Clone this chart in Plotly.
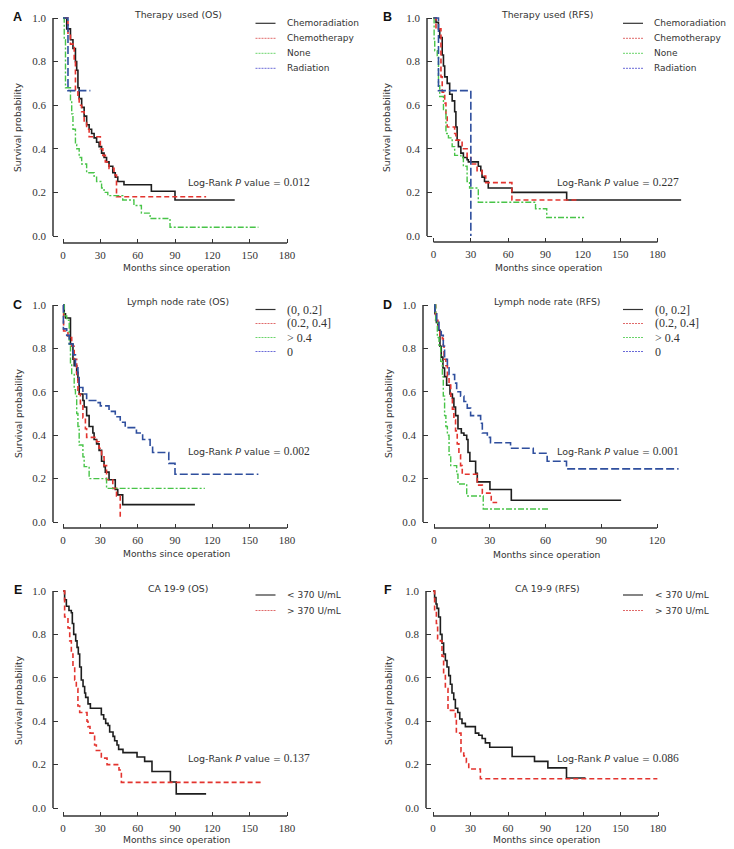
import plotly.graph_objects as go

# The page places the plot 8px in from the top-left corner (default body margin),
# so the figure is sized to fill the rest of the 734x849 window.
WIN_W, WIN_H = 734, 849
OFF = 8
W, H = WIN_W - OFF, WIN_H - OFF

# ---------------- data ----------------
THERAPY_LABELS = ["Chemoradiation", "Chemotherapy", "None", "Radiation"]
LNR_LABELS = ["(0, 0.2]", "(0.2, 0.4]", "&gt; 0.4", "0"]
CA_LABELS = ["&lt; 370 U/mL", "&gt; 370 U/mL"]

TITLES = ["Therapy used (OS)", "Therapy used (RFS)", "Lymph node rate (OS)",
          "Lymph node rate (RFS)", "CA 19-9 (OS)", "CA 19-9 (RFS)"]
P_VALUES = ["0.012", "0.227", "0.002", "0.001", "0.137", "0.086"]
PANEL_LETTERS = ["A", "B", "C", "D", "E", "F"]
X_TICKS_180 = [0, 30, 60, 90, 120, 150, 180]
X_TICKS_120 = [0, 30, 60, 90, 120]
Y_TICKS = [0.0, 0.2, 0.4, 0.6, 0.8, 1.0]

# Panel A - therapy (OS)
A_chemorad_t = [0, 3, 6, 8, 10, 11, 12, 13, 15, 17, 19, 21, 23, 25, 27, 29, 31, 33, 35, 37, 40, 42, 44, 49, 71, 90, 138]
A_chemorad_s = [1.0, 0.95, 0.90, 0.86, 0.80, 0.76, 0.68, 0.63, 0.59, 0.55, 0.51, 0.49, 0.47, 0.45, 0.43, 0.41, 0.38, 0.36, 0.34, 0.32, 0.29, 0.27, 0.25, 0.235, 0.205, 0.165, 0.165]
A_chemo_t = [0, 4, 6, 9, 10, 12, 13, 15, 17, 19, 21, 30, 32, 34, 37, 41, 43, 115]
A_chemo_s = [1.0, 0.93, 0.88, 0.80, 0.67, 0.64, 0.60, 0.57, 0.52, 0.49, 0.455, 0.40, 0.37, 0.34, 0.31, 0.28, 0.18, 0.18]
A_none_t = [0, 1, 2, 6, 7, 8, 10, 11, 13, 15, 19, 25, 27, 31, 33, 36, 48, 57, 63, 70, 86, 157]
A_none_s = [1.0, 0.90, 0.68, 0.62, 0.56, 0.49, 0.42, 0.40, 0.36, 0.33, 0.29, 0.27, 0.25, 0.22, 0.20, 0.185, 0.165, 0.14, 0.105, 0.08, 0.04, 0.04]
A_rad_t = [0, 4, 22]
A_rad_s = [1.0, 0.667, 0.667]

# Panel B - therapy (RFS)
B_chemorad_t = [0, 2, 4, 5, 7, 8, 9, 11, 13, 15, 17, 18, 19, 20, 22, 24, 27, 28, 36, 38, 39, 41, 44, 63, 107, 199]
B_chemorad_s = [1.0, 0.98, 0.95, 0.91, 0.83, 0.78, 0.73, 0.70, 0.65, 0.62, 0.57, 0.50, 0.44, 0.41, 0.38, 0.36, 0.35, 0.34, 0.32, 0.30, 0.27, 0.25, 0.22, 0.20, 0.165, 0.165]
B_chemo_t = [0, 2, 6, 7, 9, 10, 11, 17, 18, 23, 27, 30, 35, 39, 42, 63, 117]
B_chemo_s = [1.0, 0.95, 0.73, 0.66, 0.61, 0.55, 0.50, 0.47, 0.44, 0.40, 0.36, 0.33, 0.30, 0.275, 0.245, 0.165, 0.165]
B_none_t = [0, 0.5, 1, 3, 4, 5, 8, 10, 12, 15, 17, 22, 24, 27, 29, 36, 82, 91, 121]
B_none_s = [1.0, 0.90, 0.85, 0.82, 0.69, 0.64, 0.58, 0.47, 0.45, 0.41, 0.37, 0.36, 0.32, 0.25, 0.22, 0.155, 0.125, 0.085, 0.085]
B_rad_t = [0, 4, 30]
B_rad_s = [1.0, 0.667, 0.0]

# Panel C - lymph node rate (OS)
C_low_t = [0, 1, 2, 6, 8, 9, 11, 12, 13, 16, 17, 19, 21, 24, 25, 27, 29, 31, 33, 34, 37, 42, 44, 48, 106]
C_low_s = [1.0, 0.96, 0.94, 0.82, 0.75, 0.72, 0.69, 0.655, 0.59, 0.56, 0.53, 0.49, 0.44, 0.41, 0.38, 0.36, 0.33, 0.28, 0.255, 0.23, 0.195, 0.15, 0.125, 0.08, 0.08]
C_mid_t = [0, 0.5, 4, 7, 9, 11, 12, 14, 16, 18, 19, 27, 29, 31, 33, 35, 40, 43, 46]
C_mid_s = [1.0, 0.88, 0.85, 0.81, 0.75, 0.68, 0.59, 0.54, 0.48, 0.43, 0.39, 0.37, 0.34, 0.30, 0.26, 0.195, 0.155, 0.12, 0.02]
C_high_t = [0, 1, 3, 5, 6, 7, 9, 10, 11, 12, 13, 16, 17, 21, 35, 114]
C_high_s = [1.0, 0.95, 0.93, 0.81, 0.73, 0.68, 0.61, 0.58, 0.50, 0.44, 0.355, 0.30, 0.255, 0.20, 0.155, 0.155]
C_zero_t = [0, 0.3, 3, 5, 8, 10, 12, 13, 16, 19, 27, 30, 37, 42, 46, 50, 59, 64, 70, 72, 85, 90, 157]
C_zero_s = [1.0, 0.89, 0.86, 0.82, 0.77, 0.72, 0.67, 0.62, 0.59, 0.56, 0.55, 0.535, 0.51, 0.485, 0.46, 0.435, 0.41, 0.38, 0.35, 0.32, 0.27, 0.22, 0.22]

# Panel D - lymph node rate (RFS)
D_low_t = [0, 0.5, 1.3, 2.1, 3.2, 3.9, 4.8, 5.7, 6.8, 8.6, 9.9, 10.7, 11.6, 12.9, 14.7, 16.1, 17.6, 18.3, 19.3, 22.4, 23.3, 30.1, 41.6, 100.7]
D_low_s = [1.0, 0.96, 0.92, 0.885, 0.81, 0.76, 0.71, 0.67, 0.63, 0.59, 0.57, 0.53, 0.49, 0.43, 0.41, 0.40, 0.38, 0.32, 0.28, 0.225, 0.185, 0.15, 0.10, 0.10]
D_mid_t = [0, 0.9, 2.1, 3.2, 4.5, 5, 5.4, 6.4, 7.2, 8.1, 9, 9.9, 10.7, 11.6, 12.5, 13.4, 14.3, 15.2, 23.3, 26, 30.8, 34]
D_mid_s = [1.0, 0.93, 0.89, 0.86, 0.845, 0.81, 0.75, 0.72, 0.67, 0.64, 0.58, 0.52, 0.47, 0.42, 0.36, 0.31, 0.26, 0.22, 0.17, 0.133, 0.09, 0.09]
D_high_t = [0, 0.9, 1.8, 2.7, 3.6, 4.5, 5, 5.7, 6.4, 7.2, 8.1, 9, 12.2, 12.9, 17.6, 26.5, 61.8]
D_high_s = [1.0, 0.92, 0.85, 0.81, 0.74, 0.67, 0.58, 0.49, 0.44, 0.40, 0.31, 0.26, 0.22, 0.175, 0.12, 0.06, 0.06]
D_zero_t = [0, 0.5, 1.4, 2.7, 3.9, 5, 5.7, 7.2, 8.1, 11.1, 12.2, 14.3, 16.1, 17.9, 19.7, 25.1, 26, 28.7, 30.4, 41.2, 53.4, 60.9, 71.3, 131.6]
D_zero_s = [1.0, 0.96, 0.92, 0.885, 0.86, 0.81, 0.75, 0.72, 0.68, 0.64, 0.60, 0.58, 0.555, 0.525, 0.49, 0.455, 0.41, 0.39, 0.365, 0.34, 0.317, 0.28, 0.245, 0.245]

# Panel E - CA 19-9 (OS)
E_low_t = [0, 1.3, 2.7, 4.8, 6.7, 7.5, 8.6, 10.2, 11.3, 12.3, 13.4, 14.7, 16.1, 17.4, 18.2, 20.1, 22, 30.8, 32.7, 34.3, 36.2, 37.5, 40.2, 41.5, 43.4, 44.7, 48.2, 59.5, 65.6, 71.5, 86.3, 91, 115]
E_low_s = [1.0, 0.96, 0.93, 0.91, 0.90, 0.85, 0.80, 0.77, 0.74, 0.71, 0.65, 0.59, 0.56, 0.53, 0.51, 0.48, 0.46, 0.43, 0.41, 0.39, 0.38, 0.35, 0.33, 0.31, 0.29, 0.27, 0.255, 0.235, 0.215, 0.168, 0.12, 0.065, 0.065]
E_high_t = [0, 1.3, 4, 5.4, 6.7, 8, 9.4, 10.7, 12, 13.4, 19.3, 20.1, 21.7, 25.4, 26.8, 30.8, 35.4, 45, 46.9, 159]
E_high_s = [1.0, 0.88, 0.83, 0.77, 0.71, 0.65, 0.59, 0.55, 0.47, 0.44, 0.40, 0.375, 0.345, 0.29, 0.265, 0.23, 0.20, 0.175, 0.118, 0.118]

# Panel F - CA 19-9 (RFS)
F_low_t = [0, 1.3, 2.4, 3.2, 4.5, 5.9, 7.2, 8.5, 9.9, 11.2, 12.6, 13.9, 15.2, 16.6, 17.9, 19.8, 21.4, 23.2, 25.9, 33.9, 36.6, 39.3, 41.9, 45.4, 63.3, 81.2, 91.9, 106.8, 122]
F_low_s = [1.0, 0.97, 0.94, 0.92, 0.88, 0.80, 0.76, 0.71, 0.68, 0.65, 0.61, 0.57, 0.53, 0.50, 0.46, 0.44, 0.41, 0.39, 0.375, 0.345, 0.335, 0.32, 0.30, 0.28, 0.237, 0.215, 0.185, 0.138, 0.138]
F_high_t = [0, 1.3, 2.7, 3.7, 5.9, 7.2, 8.5, 9.9, 12, 17.9, 18.7, 22.4, 24.6, 26.7, 28.6, 37.9, 179.5]
F_high_s = [1.0, 0.91, 0.85, 0.78, 0.77, 0.70, 0.62, 0.55, 0.45, 0.42, 0.345, 0.26, 0.24, 0.21, 0.18, 0.135, 0.135]

# ---------------- styles ----------------
BLACK = "#1e1e1e"
RED = "#e3342f"
GREEN = "#48c448"
BLUE = "#2f4f9e"
TEXT = "#333333"
SANS = "DejaVu Sans"
SERIF = "Liberation Serif"

STYLE = [
    dict(color=BLACK, width=1.6, dash="solid"),
    dict(color=RED, width=1.6, dash="5px,3px"),
    dict(color=GREEN, width=1.4, dash="6px,2px,2px,2px"),
    dict(color=BLUE, width=1.6, dash="8px,3px"),
]
LEG_STYLE = [
    dict(color="#333333", width=1.2, dash="solid"),
    dict(color="#e06a6a", width=1, dash="2px,1px"),
    dict(color="#6ad46a", width=1, dash="2px,1px"),
    dict(color="#6a6ad8", width=1, dash="2px,1px"),
]

panel_series = [
    [(A_chemorad_t, A_chemorad_s), (A_chemo_t, A_chemo_s), (A_none_t, A_none_s), (A_rad_t, A_rad_s)],
    [(B_chemorad_t, B_chemorad_s), (B_chemo_t, B_chemo_s), (B_none_t, B_none_s), (B_rad_t, B_rad_s)],
    [(C_low_t, C_low_s), (C_mid_t, C_mid_s), (C_high_t, C_high_s), (C_zero_t, C_zero_s)],
    [(D_low_t, D_low_s), (D_mid_t, D_mid_s), (D_high_t, D_high_s), (D_zero_t, D_zero_s)],
    [(E_low_t, E_low_s), (E_high_t, E_high_s)],
    [(F_low_t, F_low_s), (F_high_t, F_high_s)],
]
panel_labels = [THERAPY_LABELS, THERAPY_LABELS, LNR_LABELS, LNR_LABELS, CA_LABELS, CA_LABELS]
panel_ticks = [X_TICKS_180, X_TICKS_180, X_TICKS_180, X_TICKS_120, X_TICKS_180, X_TICKS_180]

# ---------------- geometry (window pixels) ----------------
# axis_x: y-axis line; x0: month 0; xe: last x tick; y1: prob 1.0; y0: prob 0.0; axis_y: x-axis line
GEOM = [
    dict(axis_x=53, x0=63, xe=287, y1=18, y0=236, axis_y=243, right=300),
    dict(axis_x=427, x0=433.5, xe=657.5, y1=18, y0=236, axis_y=242, right=692),
    dict(axis_x=53, x0=63, xe=287, y1=305, y0=522, axis_y=528, right=300),
    dict(axis_x=423, x0=434, xe=657, y1=305, y0=522, axis_y=528, right=692),
    dict(axis_x=53, x0=63, xe=287, y1=591, y0=808, axis_y=816, right=300),
    dict(axis_x=426, x0=433, xe=658, y1=591, y0=808, axis_y=816, right=692),
]
TITLE_POS = [(178, 15), (547, 15), (178, 302), (547, 302), (178, 588), (547, 588)]
XTITLE_POS = [(177, 267), (549, 267), (177, 553), (547, 554), (177, 839), (547, 839)]
YTITLE_POS = [(18, 127), (387, 127), (18, 413), (388, 413), (18, 700), (388, 700)]
LOGRANK_POS = [(186, 182), (555, 182), (186, 451), (555, 451), (186, 758), (555, 758)]
LETTER_POS = [(17.5, 17), (388, 17), (17.5, 305), (388, 305), (17.5, 590), (388, 590)]
# (sample start x, first row y, row gap, label x)
LEGEND_POS = [(255.5, 23.3, 15, 286), (623, 23.3, 15, 653), (255.5, 309.5, 14, 286),
              (623, 309.5, 14, 654), (255.5, 595, 15.5, 286), (623, 595, 15.5, 654)]


def px_x(p):
    return (p - OFF) / W


def px_y(p):
    return 1 - (p - OFF) / H


fig = go.Figure()
layout = {}
shapes = []
annotations = []


def text_ann(pos, text, size, family=SANS, **kw):
    d = dict(xref="paper", yref="paper", x=px_x(pos[0]), y=px_y(pos[1]), text=text,
             showarrow=False, xanchor="center", yanchor="middle",
             font=dict(family=family, size=size, color=kw.pop("color", TEXT)))
    d.update(kw)
    return d


for i, g in enumerate(GEOM):
    n = i + 1
    xa = "x" if n == 1 else f"x{n}"
    ya = "y" if n == 1 else f"y{n}"
    ticks = panel_ticks[i]
    scale = (g["xe"] - g["x0"]) / ticks[-1]
    xr = [(g["axis_x"] - g["x0"]) / scale, (g["right"] - g["x0"]) / scale]
    yscale = g["y0"] - g["y1"]
    top = g["y1"] - 8
    yr = [-(g["axis_y"] - g["y0"]) / yscale, 1 + (g["y1"] - top) / yscale]

    layout["xaxis" if n == 1 else f"xaxis{n}"] = dict(
        domain=[px_x(g["axis_x"]), px_x(g["right"])], range=xr, anchor=ya,
        tickvals=ticks, ticktext=[str(t) for t in ticks], ticks="inside", ticklen=4,
        tickwidth=1, tickcolor=TEXT, showgrid=False, zeroline=False, showline=False,
        tickfont=dict(family=SERIF, size=11, color=TEXT), ticklabelstandoff=4,
        fixedrange=True,
    )
    layout["yaxis" if n == 1 else f"yaxis{n}"] = dict(
        domain=[px_y(g["axis_y"]), px_y(top)], range=yr, anchor=xa,
        tickvals=Y_TICKS, ticktext=[f"{v:.1f}" for v in Y_TICKS], ticks="inside", ticklen=5,
        tickwidth=1, tickcolor=TEXT, showgrid=False, zeroline=False, showline=False,
        tickfont=dict(family=SERIF, size=11, color=TEXT), ticklabelstandoff=6,
        fixedrange=True,
    )

    # axis lines spanning only the tick range
    shapes.append(dict(type="line", xref=f"{xa} domain", yref=ya, x0=0, x1=0, y0=0, y1=1,
                       line=dict(color=TEXT, width=1.5)))
    shapes.append(dict(type="line", xref=xa, yref=f"{ya} domain", x0=0, x1=ticks[-1], y0=0, y1=0,
                       line=dict(color=TEXT, width=1.5)))

    # Kaplan-Meier step curves
    for k, (t, s) in enumerate(panel_series[i]):
        fig.add_trace(go.Scatter(x=t, y=s, xaxis=xa, yaxis=ya, mode="lines",
                                 line=dict(shape="hv", **STYLE[k]),
                                 name=panel_labels[i][k].replace("&gt;", ">").replace("&lt;", "<"),
                                 showlegend=False, hoverinfo="skip"))

    # legend (drawn per panel)
    lx, ly, gap, tx = LEGEND_POS[i]
    is_serif = panel_labels[i] is LNR_LABELS
    for k, lab in enumerate(panel_labels[i]):
        yy = ly + k * gap
        shapes.append(dict(type="line", xref="paper", yref="paper",
                           x0=px_x(lx), x1=px_x(lx + 20), y0=px_y(yy), y1=px_y(yy),
                           line=LEG_STYLE[k]))
        annotations.append(text_ann((tx, yy), lab, 12 if is_serif else 9,
                                    family=SERIF if is_serif else SANS, xanchor="left",
                                    borderpad=0))

    annotations.append(text_ann(TITLE_POS[i], TITLES[i], 9.3))
    annotations.append(text_ann(XTITLE_POS[i], "Months since operation", 9.2))
    annotations.append(text_ann(YTITLE_POS[i], "Survival probability", 9.2, textangle=-90))
    annotations.append(text_ann(
        LOGRANK_POS[i],
        f"Log-Rank <i>P</i> value = <span style='font-family:{SERIF};font-size:11.5px'>{P_VALUES[i]}</span>",
        9.5, xanchor="left"))
    annotations.append(text_ann(LETTER_POS[i], f"<b>{PANEL_LETTERS[i]}</b>", 12.5,
                                family="Liberation Sans", color="#111111"))

fig.update_layout(
    width=W, height=H, margin=dict(l=0, r=0, t=0, b=0),
    paper_bgcolor="white", plot_bgcolor="white", showlegend=False,
    shapes=shapes, annotations=annotations, **layout,
)

fig.write_html("out.html")
